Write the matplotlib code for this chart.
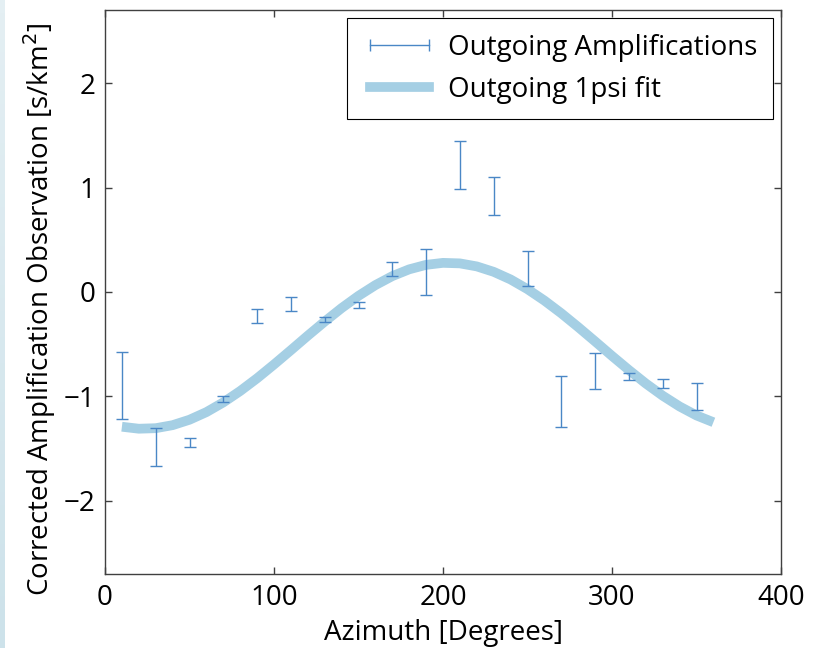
import numpy as np
import matplotlib
matplotlib.use('Agg')
import matplotlib.pyplot as plt
from matplotlib.lines import Line2D
from matplotlib.colors import LinearSegmentedColormap

plt.rcParams['font.family'] = ['Open Sans', 'DejaVu Sans']

# observations: azimuth, lower and upper ends of each error bar
azimuth = [10, 30, 50, 70, 90, 110, 130, 150, 170, 190,
           210, 230, 250, 270, 290, 310, 330, 350]
err_low = [-1.22, -1.67, -1.48, -1.05, -0.30, -0.18, -0.29, -0.15, 0.15, -0.03,
           0.99, 0.74, 0.06, -1.29, -0.93, -0.84, -0.92, -1.13]
err_high = [-0.57, -1.30, -1.40, -1.00, -0.16, -0.05, -0.24, -0.10, 0.29, 0.41,
            1.45, 1.10, 0.39, -0.80, -0.58, -0.78, -0.83, -0.87]

# 1psi fit curve
fit_az = [10, 20, 30, 40, 50, 60, 70, 80, 90, 100, 110, 120, 130, 140, 150, 160, 170, 180,
          190, 200, 210, 220, 230, 240, 250, 260, 270, 280, 290, 300, 310, 320, 330, 340,
          350, 360]
fit_val = [-1.290, -1.309, -1.304, -1.275, -1.223, -1.150, -1.057, -0.948, -0.826, -0.694,
           -0.557, -0.418, -0.283, -0.154, -0.037, 0.066, 0.152, 0.217, 0.260, 0.279,
           0.274, 0.245, 0.193, 0.120, 0.027, -0.082, -0.204, -0.336, -0.473, -0.612,
           -0.747, -0.876, -0.993, -1.096, -1.182, -1.247]

err_color = '#4a87c6'
fit_color = '#a5cfe4'
fs = 20

lo = np.array(err_low)
hi = np.array(err_high)
mid = (lo + hi) / 2

fig = plt.figure(figsize=(8.23, 6.48), dpi=100)

# pale slide edge on the left
strip = fig.add_axes([0, 0, 5 / 823, 1])
strip.imshow(np.linspace(0, 1, 50).reshape(-1, 1), aspect='auto',
             cmap=LinearSegmentedColormap.from_list('edge', ['#e4eff3', '#cde2ea']))
strip.axis('off')

ax = fig.add_axes([105 / 823, 74 / 648, 676 / 823, 564 / 648])

ax.plot(fit_az, fit_val, color=fit_color, lw=7, solid_capstyle='butt', zorder=1)
ax.errorbar(azimuth, mid, yerr=[mid - lo, hi - mid], fmt='none', ecolor=err_color,
            elinewidth=1, capsize=4.5, capthick=1, zorder=2)

ax.set_xlim(0, 400)
ax.set_ylim(-2.7, 2.7)
ax.set_xticks([0, 100, 200, 300, 400])
ax.set_yticks([-2, -1, 0, 1, 2])
ax.set_yticklabels(['\u22122', '\u22121', '0', '1', '2'])
ax.tick_params(direction='in', top=True, right=True, length=5, width=1,
               color='#404040', labelsize=fs, pad=7)
for s in ax.spines.values():
    s.set_color('#404040')
    s.set_linewidth(1)

ax.set_xlabel('Azimuth [Degrees]', fontsize=fs, labelpad=5)
ax.set_ylabel('Corrected Amplification Observation [s/km$^2$]', fontsize=fs, labelpad=4)
ax.yaxis.label.set_y(0.47)

handles = [Line2D([], [], color=err_color, lw=1, marker='|', markersize=9,
                  markeredgewidth=1),
           Line2D([], [], color=fit_color, lw=7)]
leg = ax.legend(handles, ['Outgoing Amplifications', 'Outgoing 1psi fit'],
                loc='upper right', fontsize=fs, numpoints=2, handlelength=2.7,
                fancybox=False, framealpha=1, edgecolor='black',
                borderaxespad=0.3, handletextpad=0.4, labelspacing=0.5,
                borderpad=0.55)
leg.get_frame().set_linewidth(0.8)

fig.savefig('out.png', dpi=100)
